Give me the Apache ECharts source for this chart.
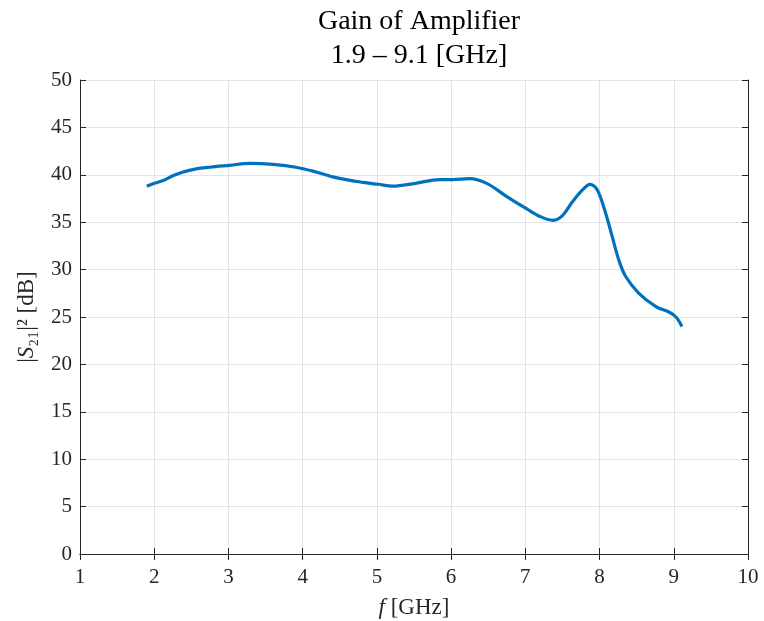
<!DOCTYPE html>
<html><head><meta charset="utf-8">
<script src="https://cdn.jsdelivr.net/npm/echarts@6/dist/echarts.min.js"></script>
<style>html,body{margin:0;padding:0;background:#fff}#c{width:764px;height:621px}</style>
</head><body><div id="c"></div>
<script>
const freq = [1.90,2.00,2.12,2.25,2.39,2.55,2.75,3.02,3.29,3.60,3.91,4.18,4.45,4.81,5.02,5.21,5.52,5.84,6.02,6.25,6.48,6.75,7.02,7.20,7.37,7.50,7.63,7.77,7.87,7.97,8.08,8.17,8.26,8.35,8.53,8.76,8.94,9.03,9.11];
const gain = [38.8,39.1,39.4,39.9,40.3,40.6,40.8,41.0,41.2,41.1,40.8,40.3,39.7,39.2,39.0,38.8,39.1,39.5,39.5,39.6,39.1,37.7,36.4,35.6,35.2,35.7,37.1,38.4,39.0,38.4,36.0,33.5,31.0,29.3,27.5,26.1,25.5,25.0,24.0];
const xTicks = [1,2,3,4,5,6,7,8,9,10];
const yTicks = [0,5,10,15,20,25,30,35,40,45,50];
const titleLines = ['Gain of Amplifier','1.9 \u2013 9.1 [GHz]'];

const font = 'Liberation Serif';
const axisCol = '#262626';
const chart = echarts.init(document.getElementById('c'));
const base = {
  axisLine:{show:true,lineStyle:{color:axisCol,width:1}},
  axisTick:{show:true,inside:true,length:6,lineStyle:{color:axisCol}},
};
chart.setOption({
  animation:false,
  backgroundColor:'#fff',
  title:{text:titleLines.join('\n'),left:414,top:0,textAlign:'center',
    textStyle:{fontFamily:font,fontSize:28,fontWeight:'normal',color:'#000',lineHeight:34}},
  grid:{left:80,right:16,top:80,bottom:67,containLabel:false,outerBoundsMode:'none'},
  xAxis:[
    Object.assign({type:'value',min:xTicks[0],max:xTicks[xTicks.length-1],interval:1,
      name:'{i|f} [GHz]',nameLocation:'middle',nameGap:42,
      nameTextStyle:{fontFamily:font,fontSize:23,color:axisCol,rich:{i:{fontFamily:font,fontStyle:'italic',fontSize:23,color:axisCol}}},
      axisLabel:{fontFamily:font,fontSize:21,color:axisCol,margin:13},
      splitLine:{show:true,lineStyle:{color:'#e3e3e3',width:1}}},base),
    Object.assign({type:'value',position:'top',min:1,max:10,interval:1,axisLabel:{show:false},splitLine:{show:false}},base)
  ],
  yAxis:[
    Object.assign({type:'value',min:yTicks[0],max:yTicks[yTicks.length-1],interval:5,
      name:'|{i|S}\u2082\u2081|\u00b2 [dB]',nameLocation:'middle',nameGap:42,
      nameTextStyle:{fontFamily:font,fontSize:23,color:axisCol,rich:{i:{fontFamily:font,fontStyle:'italic',fontSize:23,color:axisCol}}},
      axisLabel:{fontFamily:font,fontSize:21,color:axisCol,margin:8},
      splitLine:{show:true,lineStyle:{color:'#e3e3e3',width:1}}},base),
    Object.assign({type:'value',position:'right',min:0,max:50,interval:5,axisLabel:{show:false},splitLine:{show:false}},base)
  ],
  series:[{type:'line',data:freq.map((f,i)=>[f,gain[i]]),smooth:0.35,showSymbol:false,
    lineStyle:{color:'#0072BD',width:3.2},itemStyle:{color:'#0072BD'}}]
});
</script></body></html>
